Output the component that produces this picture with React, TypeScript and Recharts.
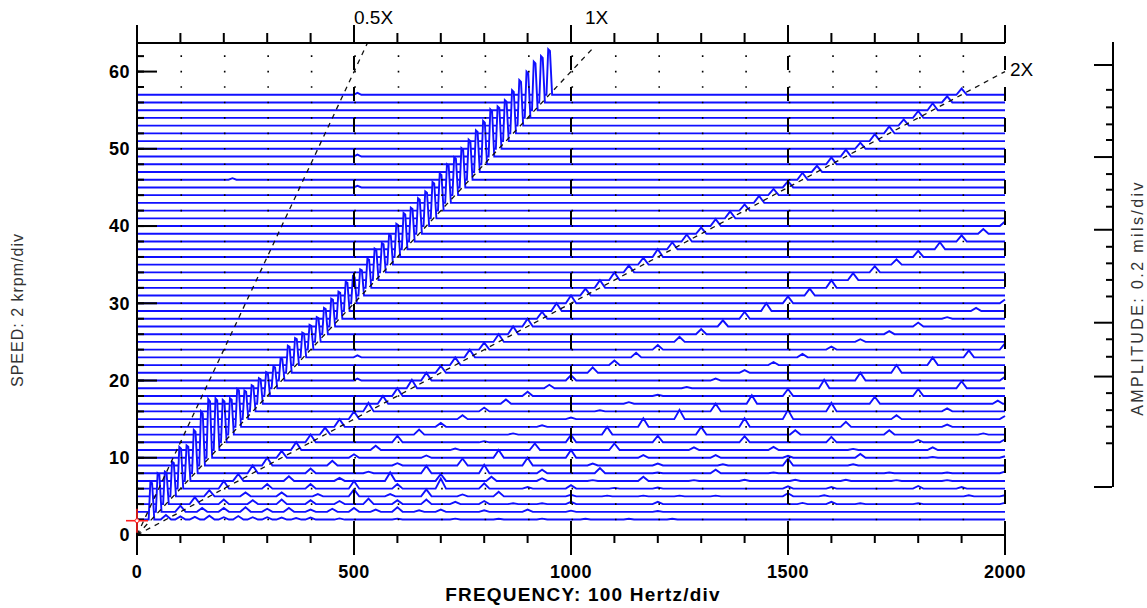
import { ComposedChart, Area, XAxis, YAxis, ReferenceLine, ReferenceDot } from 'recharts'

// speed of each spectrum, krpm (front → back)
const SPEEDS = [
  2, 3, 4, 5, 6, 7, 8, 9, 10, 11, 12, 13, 14, 15, 16, 17, 18, 19, 20, 21, 22, 23, 24, 25, 26, 27, 28, 29,
  30, 31, 32, 33, 34, 35, 36, 37, 38, 39, 40, 41, 42, 43, 44, 45, 46, 47, 48, 49, 50, 51, 52, 53, 54, 55, 56, 57,
]
// peak heights, in speed divisions, one per spectrum
const AMP_1X = [
  4.9, 5.0, 4.2, 4.5, 5.4, 4.6, 5.6, 7.0, 7.6, 6.7, 5.5, 4.7, 4.9, 3.7, 3.4, 3.3, 3.1, 2.8, 2.9, 3.5, 3.5, 3.2, 3.2, 3.2, 3.4, 3.6, 3.5, 3.8,
  3.5, 3.4, 3.8, 4.1, 3.8, 3.9, 4.3, 4.7, 4.4, 4.6, 4.5, 4.7, 4.8, 5.0, 4.9, 5.1, 5.2, 5.4, 5.6, 6.1, 5.5, 5.3, 5.6, 5.9, 6.0, 6.3, 6.0, 5.9,
]
const AMP_2X = [
  0.6, 0.8, 0.9, 0.8, 1.0, 0.9, 1.0, 1.0, 0.9, 1.0, 1.0, 0.9, 1.0, 1.0, 1.1, 1.0, 1.0, 1.1, 1.0, 0.9, 1.0, 1.0, 0.9, 1.0, 1.0, 1.0, 0.9, 1.0,
  1.0, 0.9, 1.0, 1.0, 0.9, 0.9, 1.0, 0.9, 0.9, 0.8, 0.9, 0.9, 0.8, 0.9, 0.8, 0.8, 0.9, 0.8, 0.9, 0.9, 0.8, 0.9, 0.9, 0.8, 0.9, 0.9, 0.8, 0.8,
]
const AMP_3X = [
  0.4, 0.5, 0.6, 0.5, 0.6, 0.6, 0.6, 0.6, 0.45, 0.55, 0.85, 0.65, 0.5, 0.5, 0.5, 0.55, 0.55, 0.45, 0.7, 0.7, 0.6, 0.6, 0.6, 0.65, 0.65, 0.8, 0.9, 1.0,
  0.9, 0.9, 1.0, 0.9, 0.8, 0.7, 0.8, 0.9, 0.8, 0.6, 0.6, 0, 0, 0, 0, 0, 0, 0, 0, 0, 0, 0, 0, 0, 0, 0, 0, 0,
]
// higher orders: [speed, order, height]
const HARMONICS: [number, number, number][] = [
  [2, 4, 0.35], [2, 5, 0.5], [2, 6, 0.3], [2, 7, 0.45], [2, 8, 0.3], [2, 9, 0.3], [2, 10, 0.25], [2, 11, 0.2], [2, 12, 0.25], [2, 14, 0.15],
  [2, 18, 0.12], [2, 22, 0.12], [2, 25, 0.1], [2, 28, 0.12], [2, 31, 0.1], [2, 34, 0.1], [2, 37, 0.1],
  [3, 4, 0.5], [3, 5, 0.6], [3, 6, 0.4], [3, 7, 0.5], [3, 8, 0.3], [3, 9, 0.4], [3, 10, 0.5], [3, 11, 0.3], [3, 12, 0.6], [3, 13, 0.2],
  [3, 14, 0.3], [3, 16, 0.2], [3, 18, 0.3], [3, 20, 0.15], [3, 24, 0.1],
  [4, 4, 0.5], [4, 5, 0.6], [4, 6, 0.5], [4, 7, 0.4], [4, 8, 0.7], [4, 9, 0.5], [4, 10, 0.6], [4, 11, 0.3], [4, 12, 0.4], [4, 13, 0.1],
  [4, 14, 0.1], [4, 15, 0.3], [4, 18, 0.3], [4, 23, 0.15], [4, 24, 0.3], [4, 25, 0.1], [4, 27, 0.1], [4, 30, 0.15],
  [5, 4, 0.5], [5, 5, 0.3], [5, 6, 0.9], [5, 7, 0.3], [5, 8, 0.9], [5, 9, 0.25], [5, 10, 0.6], [5, 12, 0.2], [5, 13, 0.1], [5, 14, 0.1],
  [5, 15, 0.1], [5, 16, 0.1], [5, 18, 0.4], [5, 19, 0.15], [5, 23, 0.15], [5, 24, 0.15],
  [6, 4, 0.6], [6, 5, 1.0], [6, 6, 0.6], [6, 7, 1.3], [6, 8, 0.7], [6, 9, 0.2], [6, 10, 0.45], [6, 11, 0.1], [6, 12, 0.15], [6, 15, 0.3],
  [6, 16, 0.2], [6, 18, 0.35], [6, 19, 0.2],
  [7, 4, 0.4], [7, 5, 1.1], [7, 6, 0.9], [7, 7, 0.55], [7, 8, 0.35], [7, 9, 0.1], [7, 10, 0.55], [7, 11, 0.1], [7, 12, 0.15], [7, 13, 0.15],
  [7, 14, 0.15], [7, 15, 0.1], [7, 16, 0.1],
  [8, 4, 0.2], [8, 5, 0.95], [8, 6, 1.1], [8, 7, 0.45], [8, 8, 0.65], [8, 9, 0.1], [8, 10, 0.45], [8, 11, 0.1], [8, 13, 0.1], [8, 14, 0.1], [8, 15, 0.2],
  [9, 4, 0.3], [9, 5, 0.9], [9, 6, 1.0], [9, 7, 0.25], [9, 8, 0.25], [9, 9, 0.15], [9, 10, 0.9], [9, 11, 0.15],
  [10, 4, 0.3], [10, 5, 1.0], [10, 6, 1.0], [10, 7, 0.35], [10, 8, 0.35], [10, 9, 0.25], [10, 10, 0.5], [10, 11, 0.1], [10, 12, 0.2],
  [11, 4, 0.2], [11, 5, 0.85], [11, 6, 0.85], [11, 7, 0.35], [11, 8, 0.4], [11, 9, 0.15], [11, 10, 0.35],
  [12, 4, 0.15], [12, 5, 0.95], [12, 6, 0.85], [12, 7, 0.8], [12, 8, 0.7], [12, 9, 0.3], [12, 10, 0.4],
  [13, 4, 0.15], [13, 5, 1.0], [13, 6, 1.0], [13, 7, 0.55], [13, 8, 0.55], [13, 9, 0.15],
  [14, 4, 0.2], [14, 5, 1.1], [14, 6, 1.1], [14, 7, 0.65], [14, 8, 0.3],
  [15, 4, 0.2], [15, 5, 1.2], [15, 6, 1.2], [15, 7, 0.5], [15, 8, 0.4],
  [16, 4, 0.15], [16, 5, 1.0], [16, 6, 1.1], [16, 7, 0.4],
  [17, 4, 0.2], [17, 5, 1.1], [17, 6, 0.9], [17, 7, 0.4],
  [18, 4, 0.15], [18, 5, 0.9], [18, 6, 0.9],
  [19, 4, 0.15], [19, 5, 1.1], [19, 6, 0.9],
  [20, 4, 0.25], [20, 5, 1.0], [20, 6, 0.5],
  [21, 4, 0.35], [21, 5, 1.0], [22, 4, 0.4], [22, 5, 1.0], [23, 4, 0.45], [23, 5, 0.9], [24, 4, 0.4], [24, 5, 0.8],
  [25, 4, 0.35], [26, 4, 0.4], [27, 4, 0.5], [28, 4, 0.2], [29, 4, 0.4], [30, 4, 0.5],
]
// small bumps that follow no order: [speed, Hz, height]
const FIXED_PEAKS: [number, number, number][] = [
  [20, 508, 0.25], [23, 508, 0.25], [45, 508, 0.2], [46, 220, 0.2], [49, 508, 0.25], [57, 508, 0.25],
]

const FREQ_MINOR = [0, 100, 200, 300, 400, 500, 600, 700, 800, 900, 1000, 1100, 1200, 1300, 1400, 1500, 1600, 1700, 1800, 1900, 2000]
const FREQ_MAJOR = [0, 500, 1000, 1500, 2000]
const SPEED_MINOR = [0, 2, 4, 6, 8, 10, 12, 14, 16, 18, 20, 22, 24, 26, 28, 30, 32, 34, 36, 38, 40, 42, 44, 46, 48, 50, 52, 54, 56, 58, 60, 62]
const SPEED_MAJOR = [0, 10, 20, 30, 40, 50, 60]
// order lines: label, Hz at their top end, krpm at their top end
const ORDER_LINES: [string, number, number][] = [['0.5X', 531, 63.7], ['1X', 1050, 63], ['2X', 2000, 60]]
const CURSOR = { f: 0, s: 1.85 }
// amplitude scale ticks, mils
const AMP_MINOR = [0.095, 0.131, 0.167, 0.204, 0.283, 0.321, 0.414, 0.45, 0.486, 0.522, 0.609, 0.646, 0.68, 0.754, 0.788, 0.825, 0.863]
const AMP_MAJOR = [0, 0.24, 0.357, 0.559, 0.717, 0.917]
const AMP_TOP = 0.967

const HZ_PER_KRPM = 1000 / 60
const F_MAX = 2000
const Y_TOP = 63.7
const BLUE = '#1010ff'

type Pt = { f: number; v: number }
// a peak: centre, height, half-width at the base and at the top (left / right)
type Peak = { f: number; h: number; wl: number; wr: number; tl: number; tr: number }

function buildTrace(s: number, peaks: Peak[]): Pt[] {
  const raw: Pt[] = [{ f: 0, v: s }]
  peaks.sort((a, b) => a.f - b.f)
  for (const p of peaks) {
    const last = raw[raw.length - 1].f
    if (p.f - p.tl <= last) continue
    const start = Math.max(p.f - p.wl, last)
    if (start > last) raw.push({ f: start, v: s })
    if (p.tl + p.tr > 0) {
      raw.push({ f: p.f - p.tl, v: s + p.h })
      raw.push({ f: p.f + p.tr, v: s + p.h * 0.96 })
    } else {
      raw.push({ f: p.f, v: s + p.h })
    }
    raw.push({ f: p.f + p.wr, v: s })
  }
  raw.push({ f: F_MAX + 50, v: s })
  // cut at the right edge of the frequency axis
  const out: Pt[] = [raw[0]]
  for (let i = 1; i < raw.length; i++) {
    const a = raw[i - 1]
    const b = raw[i]
    if (b.f <= F_MAX) {
      out.push(b)
      continue
    }
    const t = (F_MAX - a.f) / (b.f - a.f)
    out.push({ f: F_MAX, v: a.v + (b.v - a.v) * t })
    break
  }
  return out
}

const traces = SPEEDS.map((s, i) => {
  const f1 = s * HZ_PER_KRPM
  const w = Math.min(12, f1 * 0.4)
  const bump = (f: number, h: number, hw: number): Peak => ({ f, h, wl: hw, wr: hw, tl: 0, tr: 0 })
  const peaks: Peak[] = [{ f: f1, h: AMP_1X[i], wl: 6.5, wr: 6.5, tl: 2.5, tr: 1.5 }]
  if (AMP_2X[i]) peaks.push(bump(2 * f1, AMP_2X[i], w))
  if (AMP_3X[i]) peaks.push(bump(3 * f1, AMP_3X[i], w))
  HARMONICS.filter((r) => r[0] === s).forEach(([, n, h]) => peaks.push(bump(n * f1, h, w)))
  FIXED_PEAKS.filter((r) => r[0] === s).forEach(([, f, h]) => peaks.push(bump(f, h, 9)))
  return { s, data: buildTrace(s, peaks) }
})

const tickFont = { fontFamily: '"Liberation Sans", Arial, sans-serif', fontSize: 18, fontWeight: 700, fill: '#000', letterSpacing: 0.5 }
const noLabel = () => ''
const ink = { stroke: '#000', strokeWidth: 2 }

function Cross(props: { cx?: number; cy?: number }) {
  const { cx = 0, cy = 0 } = props
  return (
    <g stroke="#ff2020" strokeWidth={1.6}>
      <line x1={cx - 11} y1={cy} x2={cx + 11} y2={cy} />
      <line x1={cx} y1={cy - 12} x2={cx} y2={cy + 12} />
      <circle cx={cx} cy={cy} r={2} fill="#fff" strokeWidth={1} />
    </g>
  )
}

export default function App() {
  return (
    <div style={{ position: 'absolute', left: 0, top: 0, width: 1147, height: 608, background: '#fff', fontFamily: '"Liberation Sans", Arial, sans-serif' }}>
      {/* axes are 1px in layout; margins put the plot at x 136-1005, y 43-535 */}
      <ComposedChart width={1147} height={608} margin={{ top: 41, right: 142, bottom: 71, left: 136 }}>
        <XAxis xAxisId="xb" type="number" dataKey="f" domain={[0, F_MAX]} ticks={FREQ_MINOR} interval={0} tickSize={8} height={1}
          tickFormatter={noLabel} axisLine={ink} tickLine={ink} />
        <XAxis xAxisId="xbM" type="number" dataKey="f" domain={[0, F_MAX]} allowDataOverflow ticks={FREQ_MAJOR} interval={0} tickSize={19}
          tickMargin={10} height={1} axisLine={false} tick={tickFont} tickLine={ink} />
        <XAxis xAxisId="xt" orientation="top" type="number" dataKey="f" domain={[0, F_MAX]} allowDataOverflow ticks={FREQ_MINOR} interval={0}
          tickSize={10} height={1} tickFormatter={noLabel} axisLine={ink} tickLine={ink} />
        <XAxis xAxisId="xtM" orientation="top" type="number" dataKey="f" domain={[0, F_MAX]} allowDataOverflow ticks={FREQ_MAJOR} interval={0}
          tickSize={17} height={1} tickFormatter={noLabel} axisLine={false} tickLine={ink} />
        <YAxis yAxisId="y" type="number" dataKey="v" domain={[0, Y_TOP]} ticks={SPEED_MINOR} interval={0} mirror tickSize={7} width={1}
          tickFormatter={noLabel} axisLine={ink} tickLine={ink} />
        <YAxis yAxisId="yM" type="number" domain={[0, Y_TOP]} allowDataOverflow ticks={SPEED_MAJOR} interval={0} mirror tickSize={19} width={1}
          tickFormatter={noLabel} axisLine={false} tickLine={ink} />
        <YAxis yAxisId="yL" type="number" domain={[0, Y_TOP]} allowDataOverflow ticks={SPEED_MAJOR} interval={0} tickSize={0} tickMargin={7}
          width={1} axisLine={false} tickLine={false} tick={tickFont} />

        {[...traces].reverse().map((t) => (
          <Area key={t.s} xAxisId="xb" yAxisId="y" data={t.data} dataKey="v" type="linear" stroke={BLUE} strokeWidth={1.9}
            fill="#fff" fillOpacity={1} dot={false} activeDot={false} isAnimationActive={false} />
        ))}

        {SPEED_MINOR.filter((s) => s > 0).map((s) => (
          <ReferenceLine key={'g' + s} xAxisId="xb" yAxisId="y" y={s} stroke="#000" strokeWidth={1.6} strokeDasharray="1.6 41.85" />
        ))}
        {FREQ_MAJOR.filter((f) => f > 0).map((f) => (
          <ReferenceLine key={'v' + f} xAxisId="xb" yAxisId="y" segment={[{ x: f, y: 0 }, { x: f, y: Y_TOP }]} stroke="#000"
            strokeWidth={2} strokeDasharray="14 17" />
        ))}
        {ORDER_LINES.map(([name, f, s]) => (
          <ReferenceLine key={name} xAxisId="xb" yAxisId="y" segment={[{ x: 0, y: 0 }, { x: f, y: s }]} stroke="#111"
            strokeWidth={1.3} strokeDasharray="5 5" />
        ))}
        <ReferenceDot xAxisId="xb" yAxisId="y" x={CURSOR.f} y={CURSOR.s} r={0} shape={(p: any) => <Cross cx={p.cx} cy={p.cy} />} />
      </ComposedChart>

      <div style={{ position: 'absolute', left: 1090, top: 0 }}>
        <ComposedChart width={40} height={608} margin={{ top: 42, right: 17, bottom: 121, left: 21 }}>
          <XAxis xAxisId="a" type="number" domain={[0, 1]} hide />
          <YAxis yAxisId="a" type="number" domain={[0, AMP_TOP]} allowDataOverflow ticks={AMP_MINOR} interval={0} tickSize={7} width={1}
            tickFormatter={noLabel} axisLine={ink} tickLine={ink} />
          <YAxis yAxisId="aM" type="number" domain={[0, AMP_TOP]} allowDataOverflow ticks={AMP_MAJOR} interval={0} tickSize={18} width={1}
            tickFormatter={noLabel} axisLine={false} tickLine={ink} />
        </ComposedChart>
      </div>

      {ORDER_LINES.map(([name], i) => (
        <div key={name} style={{ position: 'absolute', left: [354, 585, 1010][i], top: [6, 6, 58][i], fontSize: 19, color: '#000', lineHeight: '24px' }}>
          {name}
        </div>
      ))}
      <div style={{ position: 'absolute', left: 583, top: 584, transform: 'translateX(-50%)', fontSize: 19, fontWeight: 700, letterSpacing: 1.2, whiteSpace: 'nowrap' }}>
        FREQUENCY: 100 Hertz/div
      </div>
      <div style={{ position: 'absolute', left: 18, top: 310, transform: 'translate(-50%, -50%) rotate(-90deg)', fontSize: 16, letterSpacing: 1, color: '#333', whiteSpace: 'nowrap' }}>
        SPEED: 2 krpm/div
      </div>
      <div style={{ position: 'absolute', left: 1138, top: 298, transform: 'translate(-50%, -50%) rotate(-90deg)', fontSize: 16, letterSpacing: 2.4, color: '#333', whiteSpace: 'nowrap' }}>
        AMPLITUDE: 0.2 mils/div
      </div>
    </div>
  )
}
